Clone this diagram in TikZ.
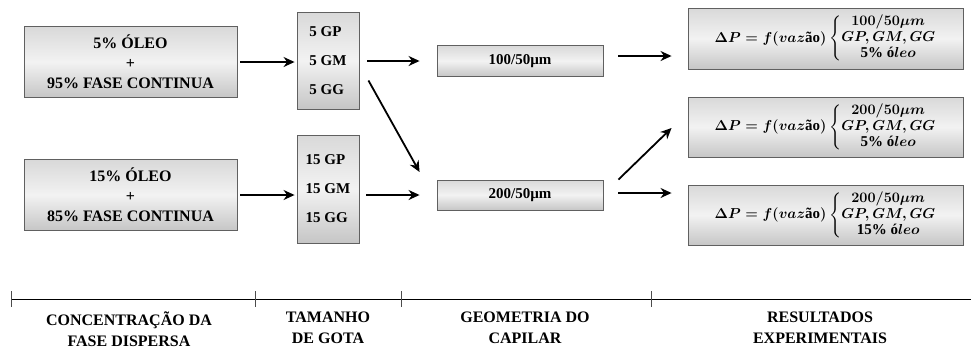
\documentclass[tikz,border=0pt]{standalone}
\usepackage{amsmath,amssymb}
\usepackage{fontspec}
\setmainfont{Liberation Serif}
\usetikzlibrary{arrows.meta,positioning,calc}

\newcommand{\resultado}[2]{%
  \renewcommand{\arraystretch}{0.9}%
  $\Delta P = f(vaz\textbf{ão})\left\{\begin{array}{@{}c@{}}
    #1/50\mu m\\ GP, GM, GG\\ \textbf{#2\% ó}leo
  \end{array}\right.$}

\begin{document}
\begin{tikzpicture}[x=1pt, y=-1pt,
    % ---------- estilos ----------
    gbox/.style={draw=gray!75!black, line width=0.9pt,
      top color=gray!30, bottom color=gray!45, middle color=gray!10},
    cbox/.style={gbox, minimum width=213pt, minimum height=71pt,
      align=center, font=\fontsize{16}{20}\selectfont\bfseries},
    dbox/.style={gbox, minimum width=62pt, align=left, inner sep=6pt,
      font=\fontsize{15}{29}\selectfont\bfseries},
    kbox/.style={gbox, minimum width=166pt, minimum height=31pt,
      font=\fontsize{15}{18}\selectfont\bfseries},
    rbox/.style={gbox, minimum width=275pt, minimum height=60pt,
      inner sep=1pt, font=\fontsize{15}{18}\selectfont\boldmath},
    arr/.style={-{Stealth[length=11pt,width=10pt]}, line width=1.8pt},
    lbl/.style={font=\fontsize{16}{21}\selectfont\bfseries,
      align=center, anchor=north}
]
\useasboundingbox (0,0) rectangle (971,349);

\def\colC{130.5}
\def\colD{328}
\def\colK{520}
\def\colR{825.5}
\def\yL{299}

% ====== Concentracao ======
\node[cbox] (c5)  at (\colC, 62)  {5\% ÓLEO\\+\\95\% FASE CONTINUA};
\node[cbox] (c15) at (\colC, 195) {15\% ÓLEO\\+\\85\% FASE CONTINUA};

% ====== Tamanho de gota ======
\node[dbox, minimum height=97pt]  (d5)  at (\colD, 60.5) {5 GP\\5 GM\\5 GG};
\node[dbox, minimum height=108pt] (d15) at (\colD, 189)  {15 GP\\15 GM\\15 GG};

% ====== Geometria do capilar ======
\node[kbox] (k100) at (\colK, 61)  {100/50µm};
\node[kbox, minimum height=30pt] (k200) at (\colK, 195) {200/50µm};

% ====== Resultados ======
\node[rbox, minimum height=61pt] (r1) at (\colR, 38.5) {\resultado{100}{5}};
\node[rbox] (r2) at (\colR, 127) {\resultado{200}{5}};
\node[rbox] (r3) at (\colR, 215) {\resultado{200}{15}};

% ====== Flechas ======
\draw[arr, shorten <=3pt, shorten >=2pt] (c5.east) -- (d5.west |- c5.east);
\draw[arr, shorten <=3pt, shorten >=2pt] (c15.east) -- (d15.west |- c15.east);
\draw[arr, shorten <=8pt, shorten >=17pt] (d5.east |- k100.west) -- (k100.west);
\draw[arr, shorten <=7pt, shorten >=17pt] (d15.east |- k200.west) -- (k200.west);
\draw[arr] ($(d5.east)+(9,20)$) -- ($(k200.west)+(-17,-23)$);
\draw[arr] ($(k100.east)+(15,-5)$) -- ($(r1.west)+(-16,17.5)$);
\draw[arr] ($(k200.north east)+(15,0)$) -- ($(r2.west)+(-16,1)$);
\draw[arr] ($(k200.east)+(15,-2)$) -- ($(r3.west)+(-16,-22)$);

% ====== Linha de etapas ======
\coordinate (t0) at (11,\yL);
\coordinate (t1) at (255,\yL);
\coordinate (t2) at (401,\yL);
\coordinate (t3) at (651,\yL);
\coordinate (tf) at (971,\yL);
\draw[line width=0.9pt] (t0) -- (tf);
\foreach \t in {t0,t1,t2,t3}
  \draw[line width=0.9pt, gray!60!black] ($(\t)+(0,-8)$) -- ($(\t)+(0,8)$);

\node[lbl] (e1) at (129,308) {CONCENTRAÇÃO DA\\FASE DISPERSA};
\node[lbl] (e2) at (\colD,308) {TAMANHO\\DE GOTA};
\node[lbl] (e3) at (525,308) {GEOMETRIA DO\\CAPILAR};
\node[lbl] (e4) at (820,308) {RESULTADOS\\EXPERIMENTAIS};

\end{tikzpicture}
\end{document}
